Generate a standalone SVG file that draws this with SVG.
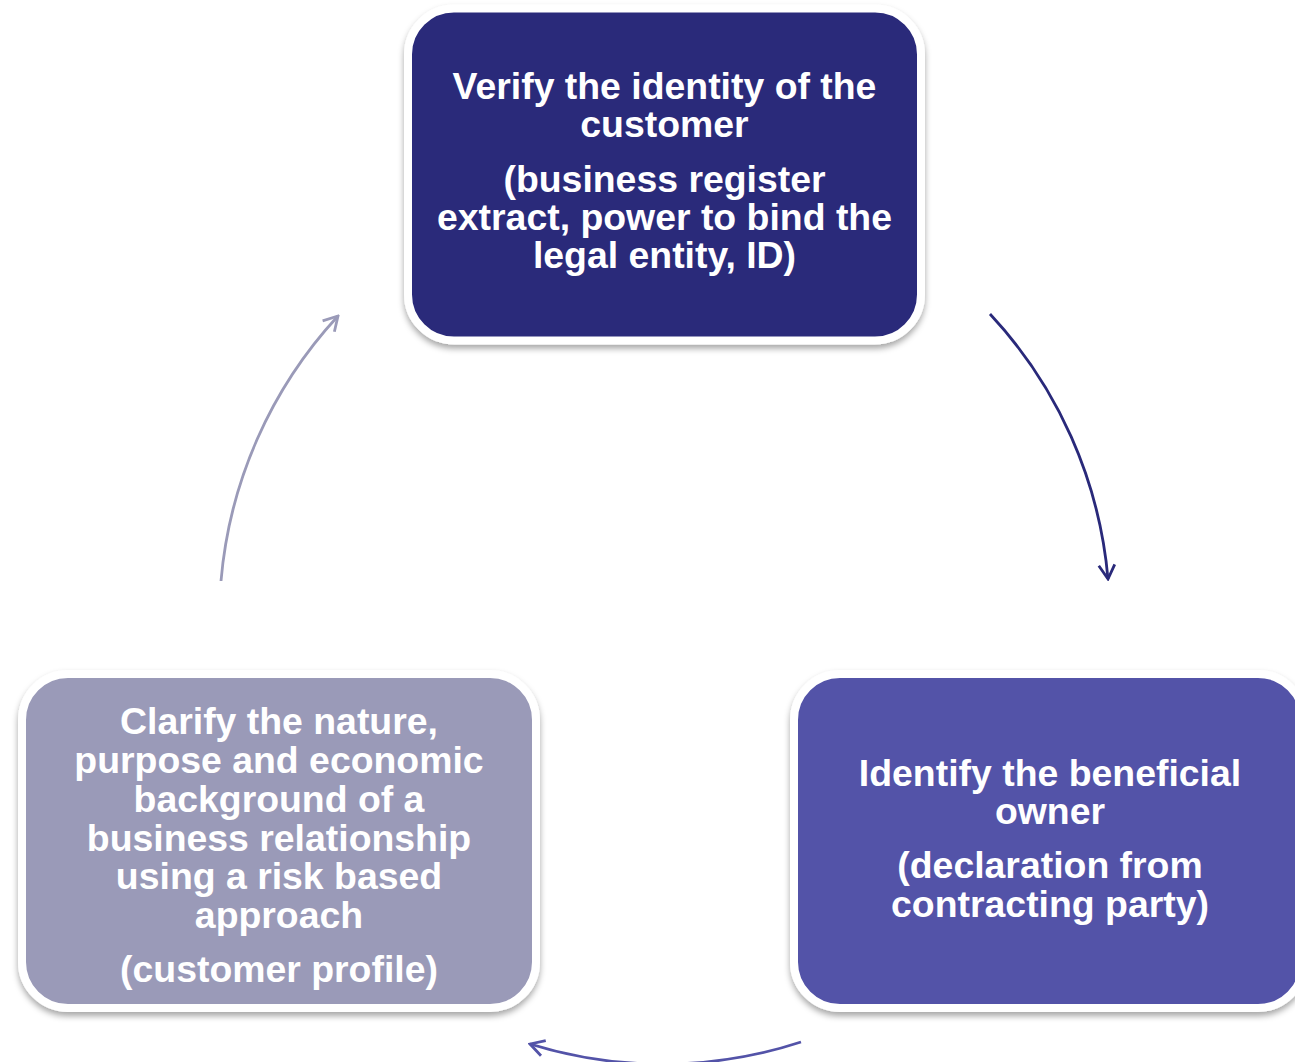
<svg xmlns="http://www.w3.org/2000/svg" width="1295" height="1062" viewBox="0 0 1295 1062">
  <style>
    .box { stroke: #ffffff; stroke-width: 8; filter: url(#shadow); }
    .lbl { font-family: "Liberation Sans", Arial, sans-serif; font-weight: bold; font-size: 37.4px; fill: #ffffff; text-anchor: middle; }
    .conn { fill: none; stroke-width: 2.8; }
  </style>
  <defs>
    <filter id="shadow" x="-10%" y="-10%" width="120%" height="125%">
      <feDropShadow dx="0" dy="4" stdDeviation="3" flood-color="#000000" flood-opacity="0.35"/>
    </filter>
    <marker id="arrDark" viewBox="0 0 20 20" refX="18" refY="10" markerWidth="20" markerHeight="20" markerUnits="userSpaceOnUse" orient="auto">
      <path d="M4,2 L18,10 L4,18" fill="none" stroke="#29297A" stroke-width="2.8"/>
    </marker>
    <marker id="arrMid" viewBox="0 0 20 20" refX="18" refY="10" markerWidth="20" markerHeight="20" markerUnits="userSpaceOnUse" orient="auto">
      <path d="M4,2 L18,10 L4,18" fill="none" stroke="#5353A8" stroke-width="2.8"/>
    </marker>
    <marker id="arrLight" viewBox="0 0 20 20" refX="18" refY="10" markerWidth="20" markerHeight="20" markerUnits="userSpaceOnUse" orient="auto">
      <path d="M4,2 L18,10 L4,18" fill="none" stroke="#9A9AB8" stroke-width="2.8"/>
    </marker>
  </defs>
  <rect width="1295" height="1062" fill="#ffffff"/>

  <g id="connectors">
    <path class="conn" stroke="#29297A" marker-end="url(#arrDark)" d="M990,314 A446,446 0 0 1 1108,579"/>
    <path class="conn" stroke="#5353A8" marker-end="url(#arrMid)" d="M801,1042 A446,446 0 0 1 530,1044"/>
    <path class="conn" stroke="#9A9AB8" marker-end="url(#arrLight)" d="M221,581 A446,446 0 0 1 338,316"/>
  </g>

  <g id="node-verify">
    <rect class="box" x="408" y="8.5" width="513" height="332" rx="46" ry="46" fill="#29297A"/>
    <text class="lbl" x="664.5" y="99">Verify the identity of the</text>
    <text class="lbl" x="664.5" y="137">customer</text>
    <text class="lbl" x="664.5" y="192">(business register</text>
    <text class="lbl" x="664.5" y="230">extract, power to bind the</text>
    <text class="lbl" x="664.5" y="268">legal entity, ID)</text>
  </g>

  <g id="node-identify">
    <rect class="box" x="794" y="674" width="510" height="334" rx="46" ry="46" fill="#5353A8"/>
    <text class="lbl" x="1050" y="786">Identify the beneficial</text>
    <text class="lbl" x="1050" y="824">owner</text>
    <text class="lbl" x="1050" y="878">(declaration from</text>
    <text class="lbl" x="1050" y="917">contracting party)</text>
  </g>

  <g id="node-clarify">
    <rect class="box" x="22" y="674" width="514" height="334" rx="46" ry="46" fill="#9A9AB8"/>
    <text class="lbl" x="279" y="734">Clarify the nature,</text>
    <text class="lbl" x="279" y="773">purpose and economic</text>
    <text class="lbl" x="279" y="812">background of a</text>
    <text class="lbl" x="279" y="851">business relationship</text>
    <text class="lbl" x="279" y="889">using a risk based</text>
    <text class="lbl" x="279" y="928">approach</text>
    <text class="lbl" x="279" y="982">(customer profile)</text>
  </g>
</svg>
